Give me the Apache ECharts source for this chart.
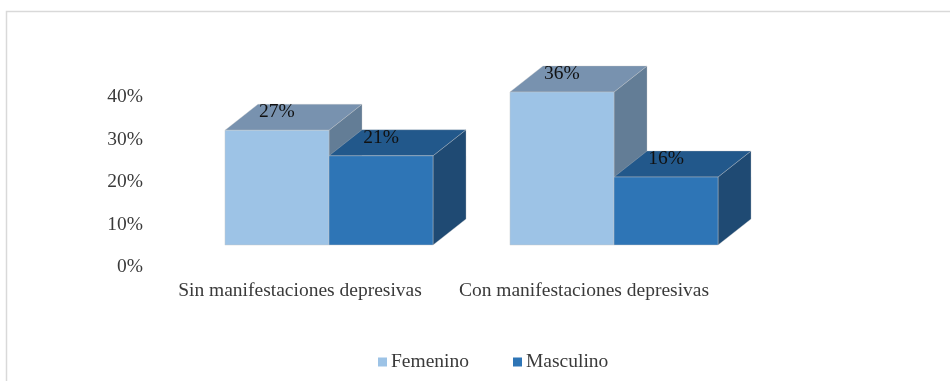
<!DOCTYPE html>
<html>
<head>
<meta charset="utf-8">
<script src="https://cdn.jsdelivr.net/npm/echarts@6/dist/echarts.min.js"></script>
<style>
  html, body { margin: 0; padding: 0; background: #ffffff; }
  #chart { width: 950px; height: 381px; }
</style>
</head>
<body>
<div id="chart"></div>
<script>
// Categories, series and tick labels
const categories = ['Sin manifestaciones depresivas', 'Con manifestaciones depresivas'];
const femenino = [27, 36];
const masculino = [21, 16];
const yTicks = [0, 10, 20, 30, 40];

const FONT = "'Liberation Serif', 'Times New Roman', serif";
const TEXT = '#3a3a3a';

// Face colours for each series: front, top, side
const palette = {
  Femenino:  { front: '#9dc3e6', top: '#7892af', side: '#637d96' },
  Masculino: { front: '#2e75b6', top: '#22588b', side: '#1f4a73' }
};

// Oblique projection of the box depth
const DEPTH_X = 33;
const DEPTH_Y = -26;
const BAR_RATIO = 0.365;

function boxRenderer(colors, offsetSign) {
  return function (params, api) {
    const cat = api.value(0);
    const val = api.value(1);
    const top = api.coord([cat, val]);
    const base = api.coord([cat, 0]);
    const w = api.size([1, 0])[0] * BAR_RATIO;
    const x0 = offsetSign < 0 ? top[0] - w : top[0];
    const x1 = x0 + w;
    const yT = top[1];
    const yB = base[1];
    const edge = 'rgba(200,200,200,0.55)';
    return {
      type: 'group',
      children: [
        {
          type: 'polygon',
          shape: { points: [[x1, yB], [x1 + DEPTH_X, yB + DEPTH_Y], [x1 + DEPTH_X, yT + DEPTH_Y], [x1, yT]] },
          style: { fill: colors.side, stroke: edge, lineWidth: 0.6 }
        },
        {
          type: 'polygon',
          shape: { points: [[x0, yT], [x0 + DEPTH_X, yT + DEPTH_Y], [x1 + DEPTH_X, yT + DEPTH_Y], [x1, yT]] },
          style: { fill: colors.top, stroke: edge, lineWidth: 0.6 }
        },
        {
          type: 'rect',
          shape: { x: x0, y: yT, width: w, height: yB - yT },
          style: { fill: colors.front, stroke: edge, lineWidth: 0.8 }
        },
        {
          type: 'text',
          style: {
            x: (x0 + x1) / 2,
            y: yT - 18,
            text: val + '%',
            fill: '#111111',
            font: '19.5px ' + FONT,
            align: 'center',
            verticalAlign: 'middle'
          }
        }
      ]
    };
  };
}

const chart = echarts.init(document.getElementById('chart'), null, { renderer: 'canvas' });

chart.setOption({
  animation: false,
  backgroundColor: '#ffffff',
  graphic: [{
    type: 'rect',
    left: 4, top: 9,
    shape: { width: 960, height: 390 },
    style: { fill: 'none', stroke: '#d9d9d9', lineWidth: 1.5 },
    silent: true,
    z: -10
  }],
  legend: {
    data: ['Femenino', 'Masculino'],
    left: 378,
    top: 352,
    padding: 0,
    icon: 'rect',
    itemWidth: 9,
    itemHeight: 9,
    itemGap: 44,
    textStyle: { fontFamily: FONT, fontSize: 19.5, color: TEXT, lineHeight: 20, padding: [0, 0, 0, -1] },
    selectedMode: false
  },
  grid: [
    // axis labels frame
    { left: 158, right: 224, top: 97, bottom: 114 },
    // box plotting frame
    { left: 186.5, width: 570, top: 75, bottom: 136 }
  ],
  xAxis: [
    {
      type: 'category', gridIndex: 0, data: categories,
      axisLine: { show: false }, axisTick: { show: false },
      axisLabel: { margin: 14, fontFamily: FONT, fontSize: 19.5, color: TEXT, lineHeight: 20, interval: 0 }
    },
    {
      type: 'category', gridIndex: 1, data: categories, show: false
    }
  ],
  yAxis: [
    {
      type: 'value', gridIndex: 0, min: yTicks[0], max: yTicks[yTicks.length - 1], interval: 10,
      axisLine: { show: false }, axisTick: { show: false }, splitLine: { show: false },
      axisLabel: { margin: 15, formatter: '{value}%', fontFamily: FONT, fontSize: 19.5, color: TEXT }
    },
    {
      type: 'value', gridIndex: 1, min: 0, max: 40, show: false
    }
  ],
  series: [
    {
      name: 'Femenino', type: 'custom', xAxisIndex: 1, yAxisIndex: 1,
      itemStyle: { color: palette.Femenino.front },
      renderItem: boxRenderer(palette.Femenino, -1),
      data: femenino.map((v, i) => [i, v]),
      z: 2
    },
    {
      name: 'Masculino', type: 'custom', xAxisIndex: 1, yAxisIndex: 1,
      itemStyle: { color: palette.Masculino.front },
      renderItem: boxRenderer(palette.Masculino, 1),
      data: masculino.map((v, i) => [i, v]),
      z: 3
    }
  ]
});
</script>
</body>
</html>
